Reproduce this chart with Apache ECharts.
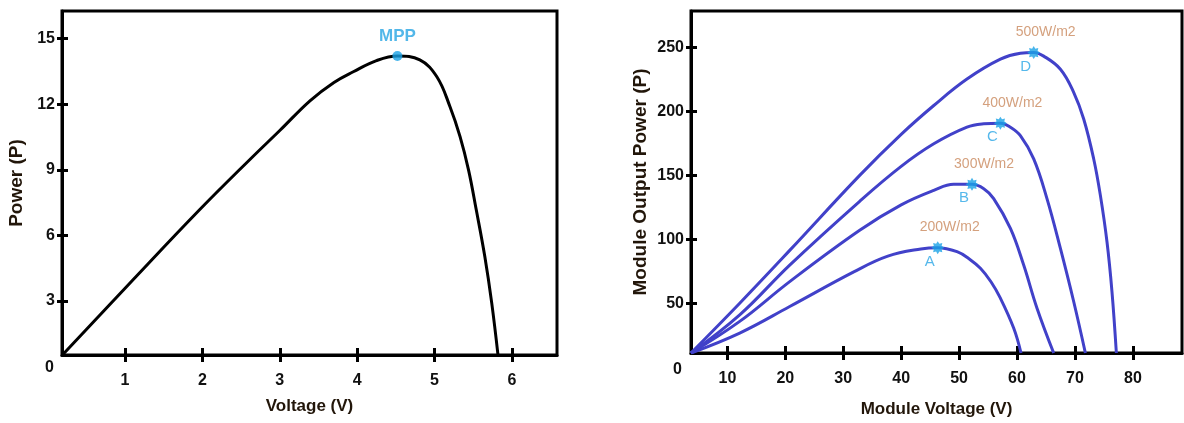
<!DOCTYPE html>
<html>
<head>
<meta charset="utf-8">
<script src="https://cdn.jsdelivr.net/npm/echarts@6/dist/echarts.min.js"></script>
<style>
html,body{margin:0;padding:0;background:#fff;}
#c{width:1184px;height:423px;}
</style>
</head>
<body>
<div id="c"></div>
<script>
// ---------- data ----------
// Left chart: single cell P-V curve
const leftCurve = [[0.19,0.53],[1.04,3.73],[1.96,7.16],[2.65,9.60],[3.0,10.8],[3.39,12.16],[3.7,13.0],[3.95,13.49],[4.25,14.0],[4.52,14.21],[4.81,14.03],[5.03,13.26],[5.20,11.89],[5.33,10.52],[5.44,8.99],[5.54,7.16],[5.65,5.03],[5.74,2.89],[5.82,0.53]];
const leftMpp = [4.52, 14.21];
const leftMppLabel = 'MPP';
const leftXTicks = [1,2,3,4,5,6];
const leftYTicks = [3,6,9,12,15];

// Right chart: module P-V curves at four irradiance levels
const curve200 = [[3.72,11.45],[12.13,27.0],[20.76,47.7],[31.9,74.9],[37.7,87.0],[43.4,92.6],[46.31,93.6],[49.64,90.5],[51.7,85.0],[53.68,77.5],[55.5,67.0],[57.13,54.2],[59.42,30.9],[60.69,11.45]];
const curve300 = [[3.72,11.45],[12.13,36.1],[20.76,67.15],[32.84,107.2],[40.0,127.0],[45.63,138.3],[49.07,143.0],[52.23,143.0],[54.26,139.6],[55.97,131.9],[58.86,108.6],[61.15,80.05],[63.45,46.4],[66.33,11.45]];
const curve400 = [[3.72,11.45],[12.13,41.2],[20.76,80.05],[32.84,129.8],[40.0,157.0],[45.63,174.6],[51.36,187.6],[54.26,190.2],[57.13,190.7],[58.86,187.6],[60.58,181.0],[62.88,162.9],[65.17,131.9],[67.49,93.0],[69.78,51.6],[71.80,11.45]];
const curve500 = [[3.72,11.45],[12.13,50.3],[20.76,91.5],[32.84,150.0],[40.0,182.0],[45.63,204.5],[51.36,225.1],[57.13,240.6],[60.58,245.2],[62.88,245.8],[64.6,243.0],[67.49,232.8],[69.78,214.8],[71.51,194.0],[73.23,163.0],[74.39,134.4],[75.53,98.2],[76.39,59.4],[77.15,11.45]];
const mppV = [46.31, 52.23, 57.13, 62.88];
const mppP = [93.6, 143.0, 190.7, 245.8];
const irradiance = ['200W/m2','300W/m2','400W/m2','500W/m2'];
const mppLetters = ['A','B','C','D'];
const rightXTicks = [10,20,30,40,50,60,70,80];
const rightYTicks = [50,100,150,200,250];

// ---------- style ----------
const FONT = "'Liberation Sans', Arial, sans-serif";
const CURVE_BLUE = '#4141c9';
const MARK_BLUE = '#1aa3e6';
const LABEL_BROWN = '#c9885c';
const NAME_COLOR = '#22160a';

function starPath(n, r1, r2) {
  let s = 'path://';
  for (let i = 0; i < 2 * n; i++) {
    const a = i * Math.PI / n - Math.PI / 2;
    const r = i % 2 ? r2 : r1;
    s += (i ? 'L' : 'M') + (r * Math.cos(a)).toFixed(2) + ',' + (r * Math.sin(a)).toFixed(2);
  }
  return s + 'Z';
}

function mainX(grid, min, max, ticks, name, gap) {
  return {
    type: 'value', gridIndex: grid, min: min, max: max, position: 'bottom',
    name: name, nameLocation: 'middle', nameGap: gap,
    nameTextStyle: {fontFamily: FONT, fontWeight: 'bold', fontSize: 17, color: NAME_COLOR},
    axisLine: {show: true, onZero: false, lineStyle: {color: '#000', width: 3}},
    axisTick: {show: true, inside: false, length: 7, lineStyle: {color: '#000', width: 3}, customValues: ticks},
    axisLabel: {show: true, margin: 18, customValues: ticks, fontFamily: FONT, fontWeight: 'bold', fontSize: 16, color: '#111'},
    splitLine: {show: false}
  };
}
function overX(grid, min, max, ticks) {
  return {
    type: 'value', gridIndex: grid, min: min, max: max, position: 'bottom', offset: 0,
    axisLine: {show: false, onZero: false},
    axisTick: {show: true, inside: true, length: 7, lineStyle: {color: '#000', width: 3}, customValues: ticks},
    axisLabel: {show: false}, splitLine: {show: false}
  };
}
function mainY(grid, min, max, ticks, name, gap) {
  return {
    type: 'value', gridIndex: grid, min: min, max: max, position: 'left',
    name: name, nameLocation: 'middle', nameGap: gap, nameRotate: 90,
    nameTextStyle: {fontFamily: FONT, fontWeight: 'bold', fontSize: 19, color: NAME_COLOR},
    axisLine: {show: true, onZero: false, lineStyle: {color: '#000', width: 3}},
    axisTick: {show: true, inside: false, length: 5, lineStyle: {color: '#000', width: 3}, customValues: ticks},
    axisLabel: {show: true, margin: 7, customValues: ticks, fontFamily: FONT, fontWeight: 'bold', fontSize: 16, color: '#111'},
    splitLine: {show: false}
  };
}
function overY(grid, min, max, ticks) {
  return {
    type: 'value', gridIndex: grid, min: min, max: max, position: 'left', offset: 0,
    axisLine: {show: false, onZero: false},
    axisTick: {show: true, inside: true, length: 6, lineStyle: {color: '#000', width: 3}, customValues: ticks},
    axisLabel: {show: false}, splitLine: {show: false}
  };
}

const curveSeries = (data) => ({
  type: 'line', xAxisIndex: 2, yAxisIndex: 2, data: data, smooth: 0.4,
  showSymbol: false, symbol: 'none', lineStyle: {color: CURVE_BLUE, width: 3}, z: 3, silent: true
});

const mppData = mppV.map((v, i) => [v, mppP[i], irradiance[i], mppLetters[i]]);

const option = {
  animation: false,
  backgroundColor: '#fff',
  grid: [
    {left: 62, top: 11, width: 495, height: 344, show: true, borderColor: '#000', borderWidth: 3, backgroundColor: 'transparent'},
    {left: 691, top: 11, width: 491, height: 344, show: true, borderColor: '#000', borderWidth: 3, backgroundColor: 'transparent'}
  ],
  xAxis: [
    mainX(0, 0.185, 6.583, leftXTicks, 'Voltage (V)', 43),
    overX(0, 0.185, 6.583, leftXTicks),
    mainX(1, 3.72, 88.48, rightXTicks, 'Module Voltage (V)', 48),
    overX(1, 3.72, 88.48, rightXTicks)
  ],
  yAxis: [
    mainY(0, 0.526, 16.27, leftYTicks, 'Power (P)', 36),
    overY(0, 0.526, 16.27, leftYTicks),
    mainY(1, 11.45, 278.2, rightYTicks, 'Module Output Power (P)', 41),
    overY(1, 11.45, 278.2, rightYTicks)
  ],
  graphic: [
    {type: 'text', left: 45, top: 360, style: {text: '0', font: 'bold 16px ' + FONT, fill: '#111'}},
    {type: 'text', left: 673, top: 362, style: {text: '0', font: 'bold 16px ' + FONT, fill: '#111'}}
  ],
  series: [
    {
      type: 'line', xAxisIndex: 0, yAxisIndex: 0, data: leftCurve, smooth: 0.4,
      showSymbol: false, symbol: 'none', lineStyle: {color: '#000', width: 3}, silent: true
    },
    {
      type: 'scatter', xAxisIndex: 0, yAxisIndex: 0, data: [leftMpp], symbol: 'circle', symbolSize: 10,
      itemStyle: {color: MARK_BLUE}, z: 5,
      label: {show: true, position: 'top', distance: 6, formatter: leftMppLabel, fontFamily: FONT, fontWeight: 'bold', fontSize: 17, color: '#27a5e3'}
    },
    curveSeries(curve200),
    curveSeries(curve300),
    curveSeries(curve400),
    curveSeries(curve500),
    {
      type: 'scatter', xAxisIndex: 2, yAxisIndex: 2, data: mppData, symbol: starPath(8, 10, 6.5), symbolSize: 13,
      itemStyle: {color: MARK_BLUE}, z: 5,
      label: {show: true, position: 'top', distance: 7, offset: [12, 0], formatter: p => p.data[2], fontFamily: FONT, fontSize: 14, color: LABEL_BROWN}
    },
    {
      type: 'scatter', xAxisIndex: 2, yAxisIndex: 2, data: mppData, symbol: 'circle', symbolSize: 1,
      itemStyle: {color: 'rgba(0,0,0,0)'}, z: 5,
      label: {show: true, position: 'bottom', distance: 6, offset: [-8, 0], formatter: p => p.data[3], fontFamily: FONT, fontSize: 15, color: '#2aa6e6'}
    }
  ]
};

const chart = echarts.init(document.getElementById('c'), null, {renderer: 'canvas'});
chart.setOption(option);
</script>
</body>
</html>
